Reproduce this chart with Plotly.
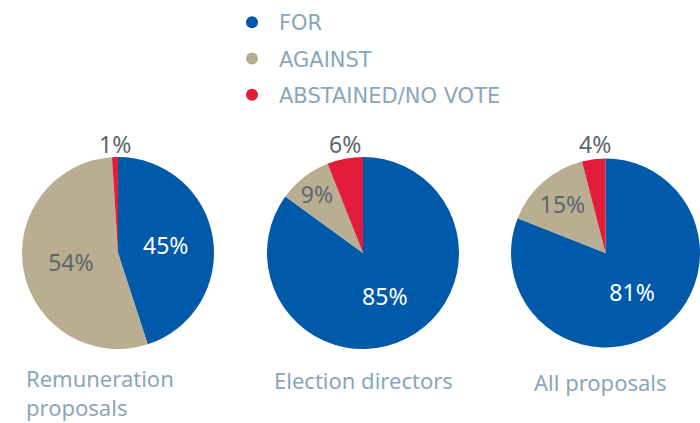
import math
import plotly.graph_objects as go

categories = ["FOR", "AGAINST", "ABSTAINED/NO VOTE"]
groups = ["Remuneration<br>proposals", "Election directors", "All proposals"]
for_vals = [45, 85, 81]
against_vals = [54, 9, 15]
abstained_vals = [1, 6, 4]

colors = ["#005aa9", "#b9ae92", "#e21c3a"]
label_gray = "#5d666e"
soft_blue = "#88a7bd"
font_family = "Noto Sans, Open Sans, sans-serif"
legend_family = "DejaVu Sans, sans-serif"

W, H = 700, 423
fig = go.Figure()

# pie placement (pixels): centres and radius
centres = [(118, 253), (363, 253), (607, 253)]
R = 96

def px(x):
    return x / W

def py(y):
    return (H - y) / H

for i, g in enumerate(groups):
    cx, cy = centres[i]
    x0 = px(cx - R)
    x1 = min(px(cx + R), 1.0)
    y0 = py(cy + R)
    y1 = py(cy - R)
    vals = [for_vals[i], against_vals[i], abstained_vals[i]]
    fig.add_trace(go.Pie(
        labels=categories,
        values=vals,
        sort=False,
        direction="clockwise",
        rotation=0,
        domain=dict(x=[x0, x1], y=[y0, y1]),
        marker=dict(colors=colors, line=dict(width=0)),
        textinfo="percent",
        texttemplate="%{percent:.0%}",
        textposition=["inside", "inside", "none"],
        insidetextorientation="horizontal",
        insidetextfont=dict(color=["white", label_gray, label_gray], size=23, family=font_family),
        showlegend=False,
        hoverinfo="label+percent",
    ))
    # small slice label placed above the pie, over the slice midpoint
    total = sum(vals)
    theta = math.radians(360 * (abstained_vals[i] / 2) / total)
    lx = cx - R * math.sin(theta)
    ly = cy - R - 13
    fig.add_annotation(
        x=px(lx), y=py(ly), xref="paper", yref="paper",
        text=f"{round(100 * abstained_vals[i] / total)}%", showarrow=False,
        xanchor="center", yanchor="middle",
        font=dict(size=23, color=label_gray, family=font_family),
    )

# legend entries as circle markers
for c, col in zip(categories, colors):
    fig.add_trace(go.Scatter(
        x=[None], y=[None], mode="markers", name=c,
        marker=dict(color=col, size=12, symbol="circle"),
        legendgroup=c,
    ))

label_pos = [(24, 392, "left"), (363, 380, "center"), (600, 382, "center")]
for g, (gx, gy, al) in zip(groups, label_pos):
    fig.add_annotation(
        x=px(gx), y=py(gy), xref="paper", yref="paper",
        text=g, showarrow=False, align="left",
        xanchor="left" if al == "left" else "center", yanchor="middle",
        font=dict(size=22, color=soft_blue, family=font_family),
    )

fig.update_layout(
    width=W, height=H,
    margin=dict(l=0, r=0, t=0, b=0, autoexpand=False),
    paper_bgcolor="white", plot_bgcolor="white",
    xaxis=dict(visible=False), yaxis=dict(visible=False),
    uniformtext=dict(minsize=23, mode="show"),
    legend=dict(
        x=px(225), y=1 - 2 / H, xanchor="left", yanchor="top",
        font=dict(size=21, color=soft_blue, family=legend_family),
        tracegroupgap=6, itemwidth=44, bgcolor="rgba(0,0,0,0)",
    ),
    showlegend=True,
)

fig.write_html(
    "out.html",
    config={"displayModeBar": False},
    post_script="document.body.style.margin='0';document.body.style.overflow='hidden';",
)
